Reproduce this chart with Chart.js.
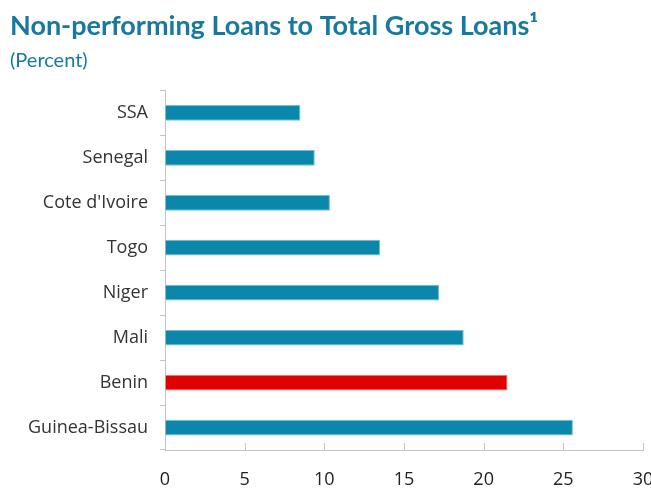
<!DOCTYPE html>
<html>
<head>
<meta charset="utf-8">
<script src="https://cdn.jsdelivr.net/npm/chart.js@4/dist/chart.umd.min.js"></script>
<style>
  html, body { margin: 0; padding: 0; background: #fff; }
  #wrap { width: 651px; height: 488px; position: relative; }
</style>
</head>
<body>
<div id="wrap"><canvas id="npl"></canvas></div>
<script>
// countries, top to bottom
const countries = ["SSA", "Senegal", "Cote d'Ivoire", "Togo", "Niger", "Mali", "Benin", "Guinea-Bissau"];
// NPL ratio, percent
const nplValues = [8.5, 9.4, 10.35, 13.5, 17.2, 18.75, 21.5, 25.6];
const xTicks = [0, 5, 10, 15, 20, 25, 30];

const teal = "#0a87aa";
const red = "#e00000";
const titleBlue = "#17799f";

const barColors = countries.map(c => c === "Benin" ? red : teal);
const barBorders = countries.map(c => c === "Benin" ? "#f07a7a" : "#6cc0d8");

// short tick marks pointing up from the x axis
const innerTicks = {
    id: "innerTicks",
    afterDraw(chart) {
        const x = chart.scales.x;
        const ctx = chart.ctx;
        const bottom = chart.chartArea.bottom;
        ctx.save();
        ctx.strokeStyle = "#c4c4c4";
        ctx.lineWidth = 1;
        xTicks.forEach(v => {
            const px = Math.round(x.getPixelForValue(v)) + 0.5;
            ctx.beginPath();
            ctx.moveTo(px, bottom);
            ctx.lineTo(px, bottom - 7);
            ctx.stroke();
        });
        ctx.restore();
    }
};

new Chart(document.getElementById("npl"), {
    type: "bar",
    data: {
        labels: countries,
        datasets: [{
            data: nplValues,
            backgroundColor: barColors,
            borderColor: barBorders,
            borderWidth: 1,
            borderSkipped: "left",
            categoryPercentage: 1,
            barPercentage: 0.35
        }]
    },
    options: {
        indexAxis: "y",
        responsive: true,
        maintainAspectRatio: false,
        animation: false,
        layout: { padding: { top: 10, left: 10, right: 8, bottom: 0 } },
        plugins: {
            legend: { display: false },
            tooltip: { enabled: false },
            title: {
                display: true,
                text: "Non-performing Loans to Total Gross Loans\u00b9",
                align: "start",
                color: titleBlue,
                font: { family: "Lato", size: 27, weight: "bold" },
                padding: { top: 0, bottom: 6 }
            },
            subtitle: {
                display: true,
                text: "(Percent)",
                align: "start",
                color: titleBlue,
                font: { family: "Lato", size: 20 },
                padding: { top: 0, bottom: 18 }
            }
        },
        scales: {
            x: {
                min: 0,
                max: 30,
                afterBuildTicks(scale) {
                    scale.ticks = xTicks.map(v => ({ value: v }));
                },
                afterFit(scale) {
                    scale.height = 38;
                    scale.paddingRight = 0;
                },
                grid: { drawOnChartArea: false, drawTicks: true, tickLength: 17, tickColor: "rgba(0,0,0,0)" },
                border: { color: "#c4c4c4" },
                ticks: {
                    padding: 2,
                    color: "#222",
                    font: { family: "Open Sans", size: 18 }
                }
            },
            y: {
                afterFit(scale) { scale.width = 155; },
                grid: { drawOnChartArea: false, drawTicks: true, tickLength: 5, color: "#c4c4c4", offset: true },
                border: { color: "#c4c4c4" },
                ticks: {
                    padding: 12,
                    color: "#333",
                    font: { family: "Open Sans", size: 18 }
                }
            }
        }
    },
    plugins: [innerTicks]
});
</script>
</body>
</html>
